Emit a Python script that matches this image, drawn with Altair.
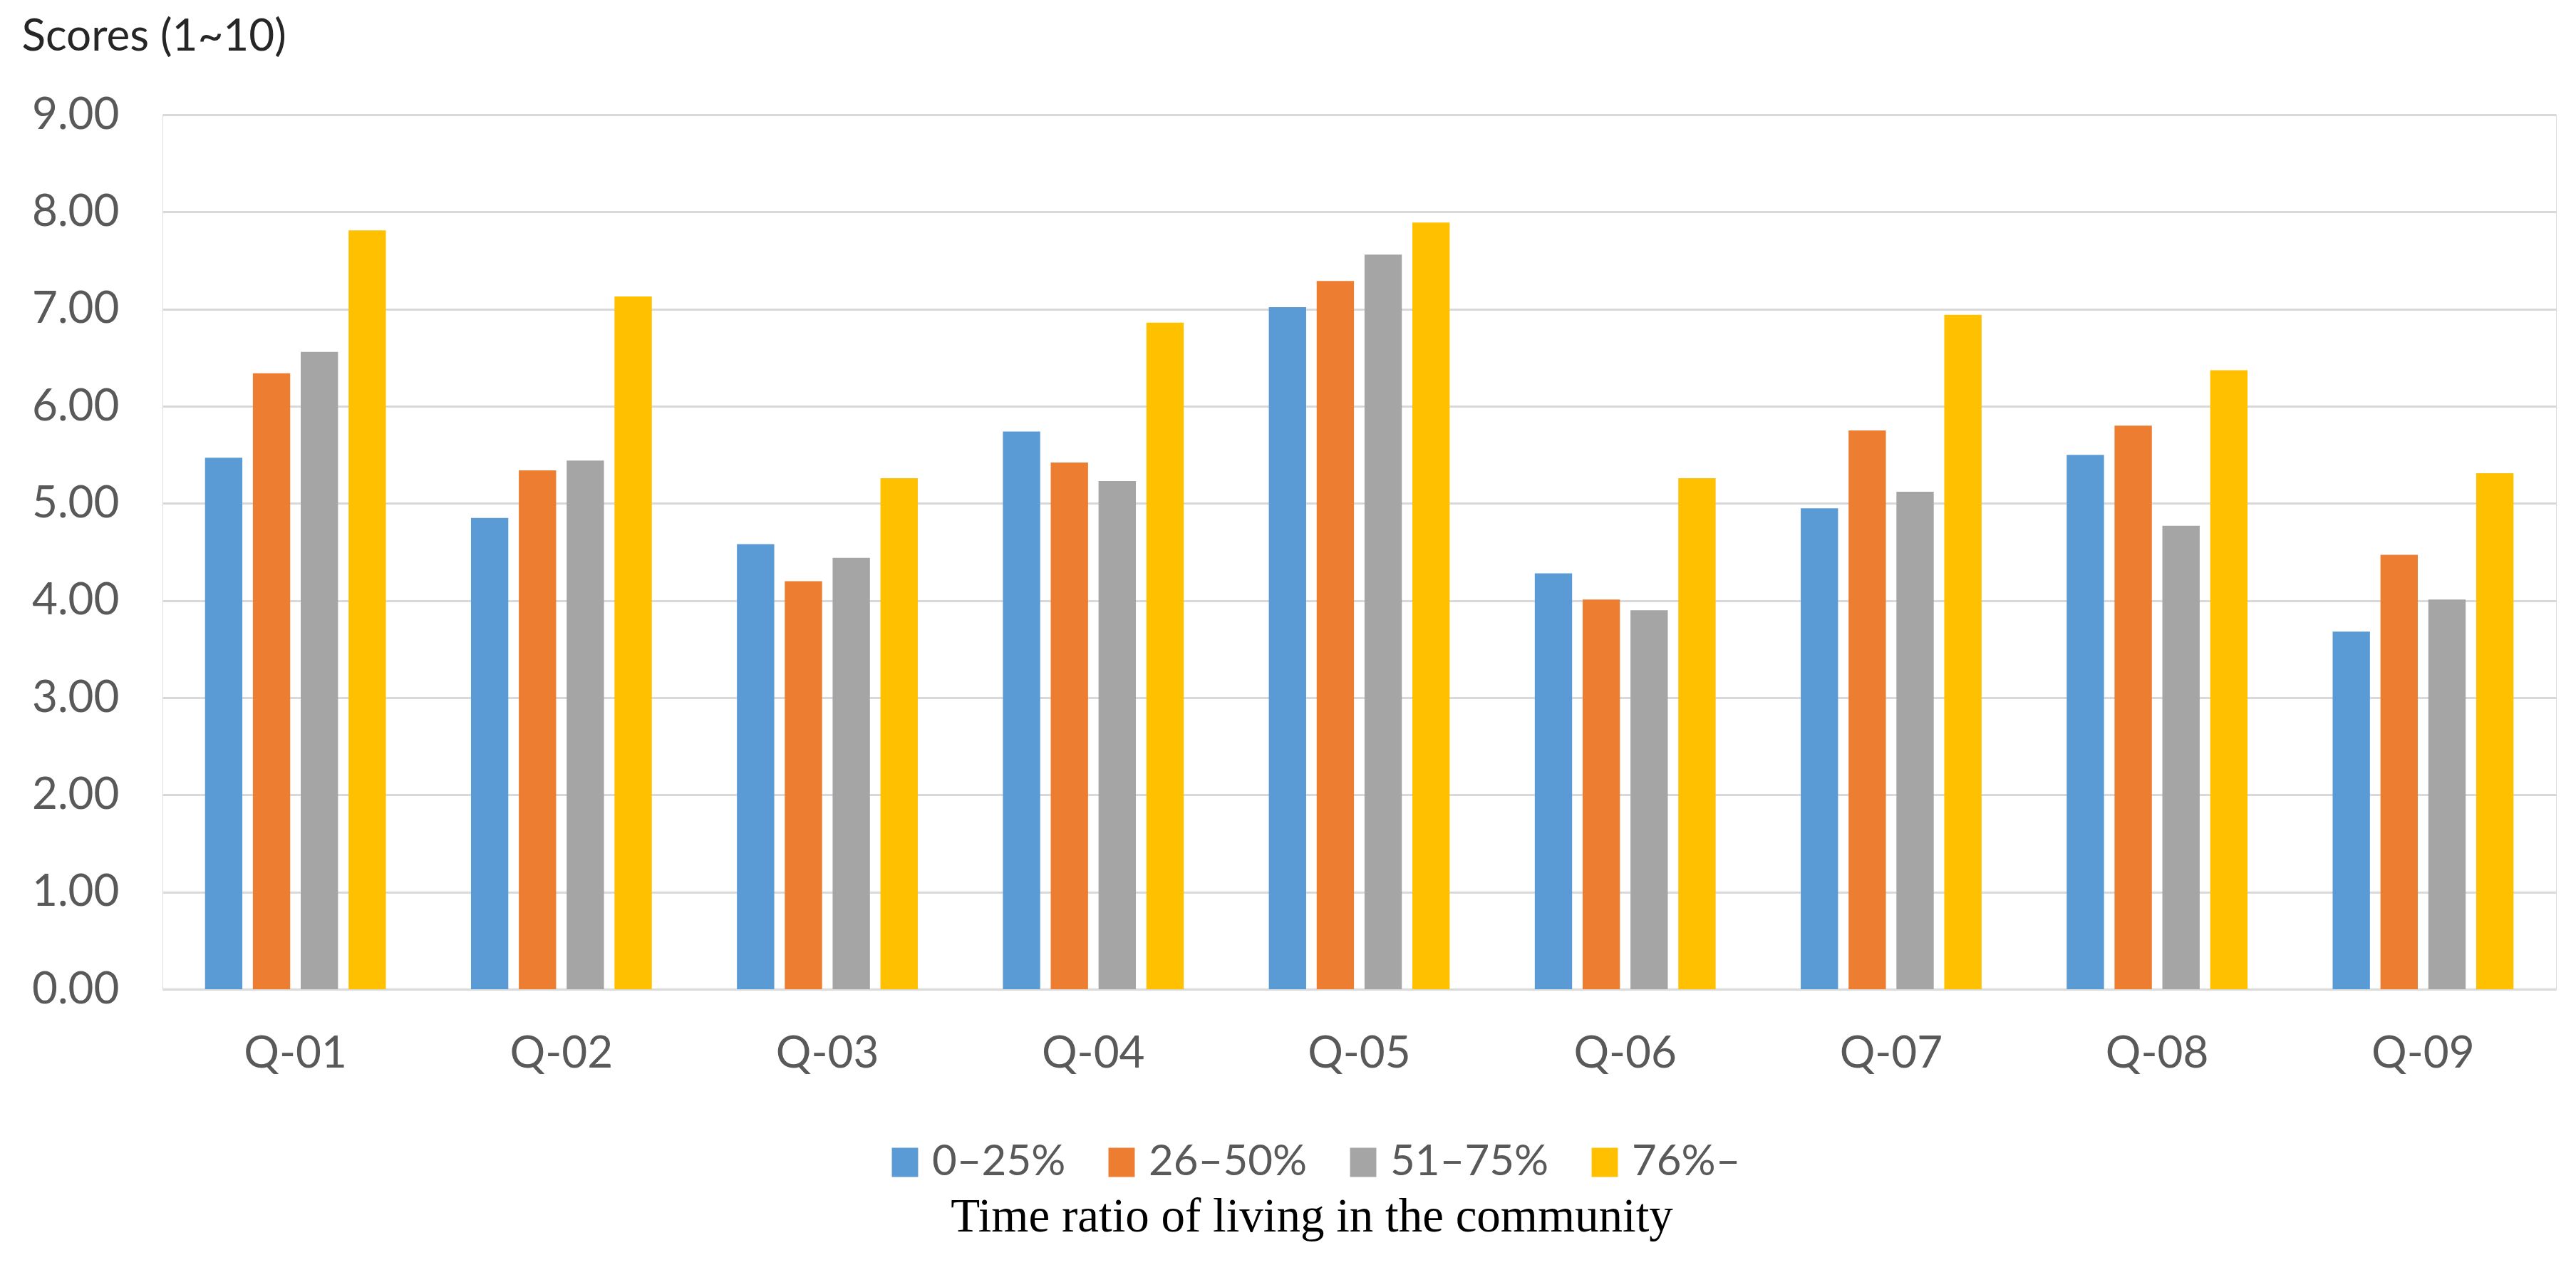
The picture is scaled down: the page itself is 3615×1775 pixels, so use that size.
import altair as alt
import pandas as pd

questions = ["Q-01", "Q-02", "Q-03", "Q-04", "Q-05", "Q-06", "Q-07", "Q-08", "Q-09"]
groups = ["0–25%", "26–50%", "51–75%", "76%–"]
colors = ["#5B9BD5", "#ED7D31", "#A5A5A5", "#FFC000"]

s_0_25 = [5.47, 4.85, 4.58, 5.74, 7.02, 4.28, 4.95, 5.50, 3.68]
s_26_50 = [6.34, 5.34, 4.20, 5.42, 7.29, 4.01, 5.75, 5.80, 4.47]
s_51_75 = [6.56, 5.44, 4.44, 5.23, 7.56, 3.90, 5.12, 4.77, 4.01]
s_76 = [7.81, 7.13, 5.26, 6.86, 7.89, 5.26, 6.94, 6.37, 5.31]

y_ticks = [0, 1, 2, 3, 4, 5, 6, 7, 8, 9]

series = [s_0_25, s_26_50, s_51_75, s_76]
rows = []
for g, vals in zip(groups, series):
    for q, v in zip(questions, vals):
        rows.append({"question": q, "group": g, "score": v})
df = pd.DataFrame(rows)

LABEL = "#595959"

chart = alt.Chart(df).mark_bar().encode(
    x=alt.X(
        "question:N",
        sort=questions,
        title=None,
        scale=alt.Scale(paddingInner=0.32, paddingOuter=0.16),
        axis=alt.Axis(
            labelAngle=0,
            labelFont="Lato",
            labelFontSize=62,
            labelColor=LABEL,
            labelBaseline="middle",
            labelPadding=90,
            ticks=False,
            tickSize=0,
            domainColor="#D9D9D9",
            domainWidth=3,
            grid=False,
        ),
    ),
    xOffset=alt.XOffset(
        "group:N",
        sort=groups,
        scale=alt.Scale(paddingInner=0.22, paddingOuter=0),
    ),
    y=alt.Y(
        "score:Q",
        scale=alt.Scale(domain=[0, 9], nice=False),
        axis=alt.Axis(
            values=y_ticks,
            format=".2f",
            labelFont="Lato",
            labelFontSize=62,
            labelColor=LABEL,
            labelPadding=61,
            ticks=False,
            tickSize=0,
            domain=False,
            gridColor="#D9D9D9",
            gridWidth=3,
            title="Scores (1~10)",
            titleFont="Lato",
            titleFontSize=62,
            titleFontWeight="normal",
            titleColor="#262626",
            titleAngle=0,
            titleAlign="left",
            titleBaseline="alphabetic",
            titleLimit=2000,
            titleX=-198,
            titleY=-91,
        ),
    ),
    color=alt.Color(
        "group:N",
        sort=groups,
        scale=alt.Scale(domain=groups, range=colors),
        legend=alt.Legend(
            title="Time ratio of living in the community",
            titleOrient="bottom",
            titleAnchor="middle",
            titleFont="Liberation Serif",
            titleFontSize=67,
            titleFontWeight="normal",
            titleColor="#000000",
            titlePadding=14,
            titleLimit=3000,
            orient="none",
            legendX=1012,
            legendY=1440,
            direction="horizontal",
            labelFont="Lato",
            labelFontSize=60,
            labelColor=LABEL,
            labelOffset=8,
            labelLimit=1000,
            columnPadding=48,
            symbolType="M-0.9,-1H0.9V1H-0.9Z",
            symbolSize=1681,
            symbolStrokeWidth=0,
            padding=0,
        ),
    ),
).properties(
    width=3359,
    height=1227,
    padding={"left": 220, "top": 153, "right": 20, "bottom": 370},
    autosize=alt.AutoSizeParams(type="none"),
).configure_view(stroke=None).configure(background="white")

chart.save("out.html", embed_options={"renderer": "svg", "actions": False})
